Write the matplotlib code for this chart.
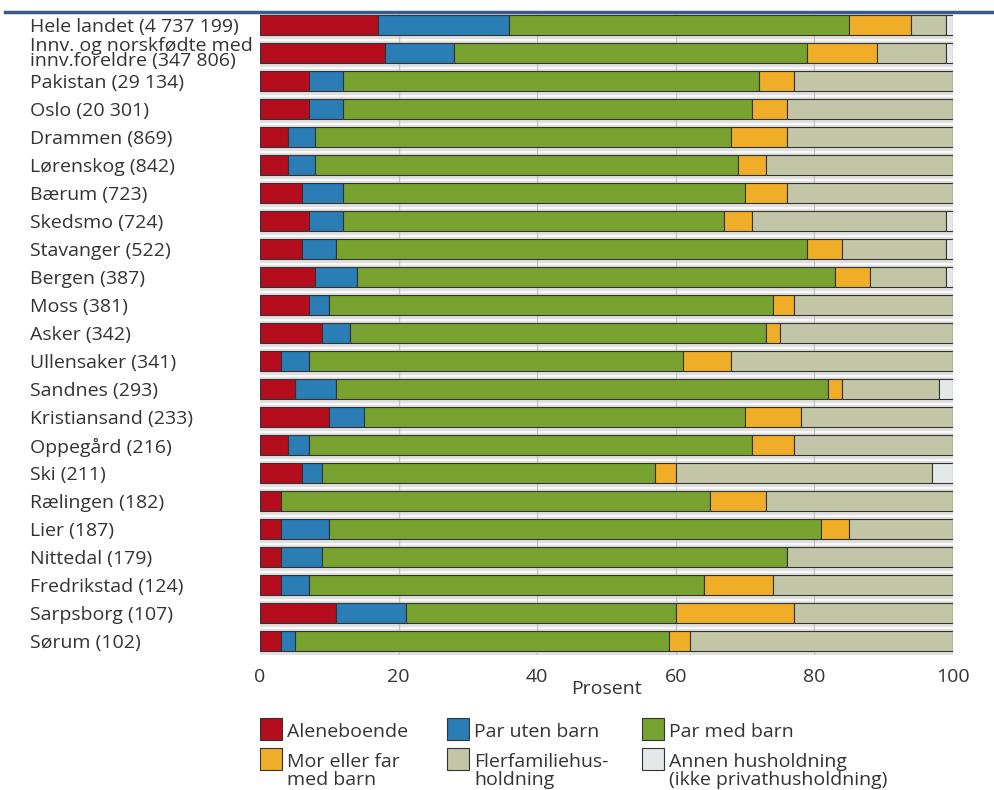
import matplotlib.pyplot as plt
from matplotlib.patches import Rectangle
from matplotlib.lines import Line2D

plt.rcParams['font.family'] = ['Open Sans', 'DejaVu Sans']

labels = ['Hele landet (4 737 199)',
          'Innv. og norskfødte med\ninnv.foreldre (347 806)',
          'Pakistan (29 134)', 'Oslo (20 301)', 'Drammen (869)',
          'Lørenskog (842)', 'Bærum (723)', 'Skedsmo (724)',
          'Stavanger (522)', 'Bergen (387)', 'Moss (381)', 'Asker (342)',
          'Ullensaker (341)', 'Sandnes (293)', 'Kristiansand (233)',
          'Oppegård (216)', 'Ski (211)', 'Rælingen (182)', 'Lier (187)',
          'Nittedal (179)', 'Fredrikstad (124)', 'Sarpsborg (107)',
          'Sørum (102)']

categories = ['Aleneboende', 'Par uten barn', 'Par med barn',
              'Mor eller far\nmed barn', 'Flerfamiliehus-\nholdning',
              'Annen husholdning\n(ikke privathusholdning)']

aleneboende = [17, 18, 7, 7, 4, 4, 6, 7, 6, 8, 7, 9, 3, 5, 10, 4, 6, 3, 3, 3, 3, 11, 3]
par_uten    = [19, 10, 5, 5, 4, 4, 6, 5, 5, 6, 3, 4, 4, 6, 5, 3, 3, 0, 7, 6, 4, 10, 2]
par_med     = [49, 51, 60, 59, 60, 61, 58, 55, 68, 69, 64, 60, 54, 71, 55, 64, 48, 62, 71, 67, 57, 39, 54]
mor_far     = [9, 10, 5, 5, 8, 4, 6, 4, 5, 5, 3, 2, 7, 2, 8, 6, 3, 8, 4, 0, 10, 17, 3]
flerfam     = [5, 10, 23, 24, 24, 27, 24, 28, 15, 11, 23, 25, 32, 14, 22, 23, 37, 27, 15, 24, 26, 23, 38]
annen       = [1, 1, 0, 0, 0, 0, 0, 1, 1, 1, 0, 0, 0, 2, 0, 0, 3, 0, 0, 0, 0, 0, 0]

series = [aleneboende, par_uten, par_med, mor_far, flerfam, annen]
colors = ['#b30d1e', '#2b7db5', '#78a22f', '#f0ae28', '#c3c6a6', '#e6e7e9']

FS = 14
TXT = '#333333'

fig = plt.figure(figsize=(9.94, 7.90), dpi=100)
ax = fig.add_axes([260/994, 135/790, 693/994, 644/790])

ypos = list(range(len(labels)))
ax.set_facecolor('white')
# grey band behind rows
ax.barh(ypos, [100.4] * len(ypos), height=1.0, left=0, color='#e0e0e0', zorder=0)
for i in range(len(labels) - 1):
    ax.axhline(i + 0.55, color='white', lw=1.2, zorder=0.5)
for gx in [20, 40, 60, 80]:
    ax.axvline(gx, color='#c4c4c4', lw=1, zorder=0.6)

# shadow
totals = [sum(s[i] for s in series) for i in range(len(labels))]
ax.barh([y + 0.05 for y in ypos], totals, height=0.72, color='#a8a8a8', zorder=1)

left = [0] * len(labels)
for vals, col in zip(series, colors):
    ax.barh(ypos, vals, left=left, height=0.72, color=col,
            edgecolor='#333333', linewidth=0.8, zorder=2)
    left = [l + v for l, v in zip(left, vals)]

ax.set_xlim(0, 100)
ax.set_ylim(22.5, -0.5)
ax.set_xticks([0, 20, 40, 60, 80, 100])
ax.set_yticks(ypos)
ax.set_yticklabels(labels)
for t in ax.get_yticklabels():
    t.set_ha('left')
    t.set_linespacing(0.8)
ax.tick_params(axis='y', length=0, pad=230 * 0.72, labelsize=FS, labelcolor=TXT)
ax.tick_params(axis='x', length=0, pad=9, labelsize=FS, labelcolor=TXT)
ax.set_xlabel('Prosent', fontsize=FS, color=TXT, labelpad=-4)
for s in ax.spines.values():
    s.set_visible(False)

# top rule
fig.add_artist(Line2D([5/994, 1], [1 - 12/790, 1 - 12/790], color='#3d5a87', lw=2.5))

# legend, drawn line by line
pos = [(260, 718), (447, 718), (642, 718), (260, 748), (447, 748), (642, 748)]
for (px, py), col, name in zip(pos, colors, categories):
    fig.add_artist(Rectangle((px/994, 1 - (py + 22)/790), 22/994, 22/790,
                             facecolor=col, edgecolor='#333333', lw=0.8))
    for k, line in enumerate(name.split('\n')):
        fig.text((px + 27)/994, 1 - (py + 19 + 18 * k)/790, line, fontsize=FS,
                 color=TXT, va='baseline', ha='left')

fig.savefig('out.png', dpi=100)
